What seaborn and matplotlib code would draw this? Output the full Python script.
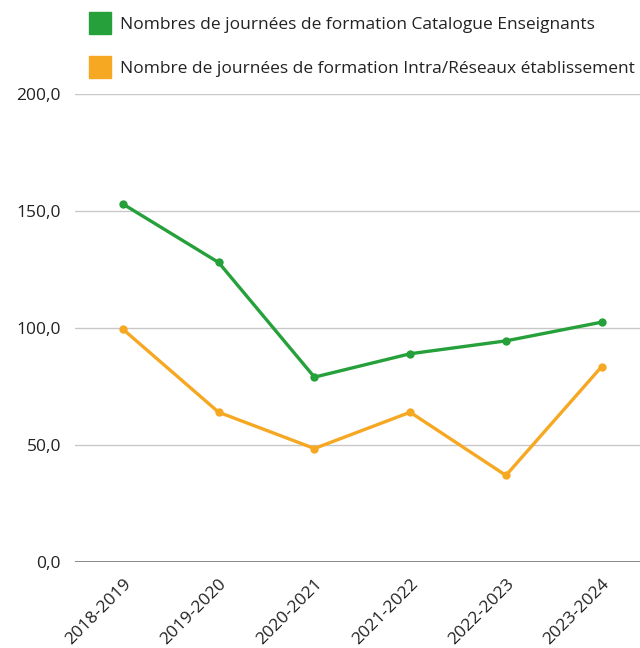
import matplotlib
matplotlib.use("Agg")
from matplotlib import pyplot as plt
from matplotlib.lines import Line2D
import seaborn as sns
import pandas as pd

# data
years = ["2018-2019", "2019-2020", "2020-2021", "2021-2022", "2022-2023", "2023-2024"]
catalogue = [153.0, 128.0, 79.0, 89.0, 94.5, 102.5]
intra = [99.5, 64.0, 48.5, 64.0, 37.0, 83.5]

label_cat = "Nombres de journées de formation Catalogue Enseignants"
label_intra = "Nombre de journées de formation Intra/Réseaux établissement"
green = "#25A03A"
orange = "#F7A823"

df = pd.DataFrame({
    "annee": years * 2,
    "valeur": catalogue + intra,
    "serie": [label_cat] * len(years) + [label_intra] * len(years),
})

sns.set_style("white")
plt.rcParams["font.family"] = ["Open Sans", "DejaVu Sans"]

fig = plt.figure(figsize=(6.4, 6.48), dpi=100)
ax = fig.add_axes([75 / 640, 1 - 562 / 648, 565 / 640, (562 - 94) / 648])

sns.lineplot(data=df, x="annee", y="valeur", hue="serie",
             palette=[green, orange], marker="o", markersize=6,
             markeredgewidth=0, linewidth=2.4, sort=False, ax=ax, legend=False)

ax.set_xlim(-0.5, 5.4)
ax.set_ylim(0, 200)
ax.set_yticks([0, 50, 100, 150, 200])
ax.set_yticklabels(["0,0", "50,0", "100,0", "150,0", "200,0"])
ax.yaxis.grid(True, color="#c8c8c8", linewidth=1)
ax.axhline(0, color="#777777", linewidth=1.2)
ax.set_xlabel("")
ax.set_ylabel("")
for s in ax.spines.values():
    s.set_visible(False)
ax.tick_params(axis="y", length=0, pad=10, labelsize=12.5, colors="#222222")
ax.tick_params(axis="x", length=0, pad=10, labelsize=12.5, colors="#222222")
plt.setp(ax.get_xticklabels(), rotation=45, ha="right", rotation_mode="anchor")

handles = [
    Line2D([], [], linestyle="none", marker="s", markersize=16.5, color=green),
    Line2D([], [], linestyle="none", marker="s", markersize=16.5, color=orange),
]
fig.legend(handles, [label_cat, label_intra], loc="upper left",
           bbox_to_anchor=(73 / 640, 1 - 1 / 648), frameon=False,
           fontsize=12.5, labelspacing=1.6, handletextpad=0.5,
           handlelength=1.3, labelcolor="#222222")

fig.savefig("out.png", dpi=100)
